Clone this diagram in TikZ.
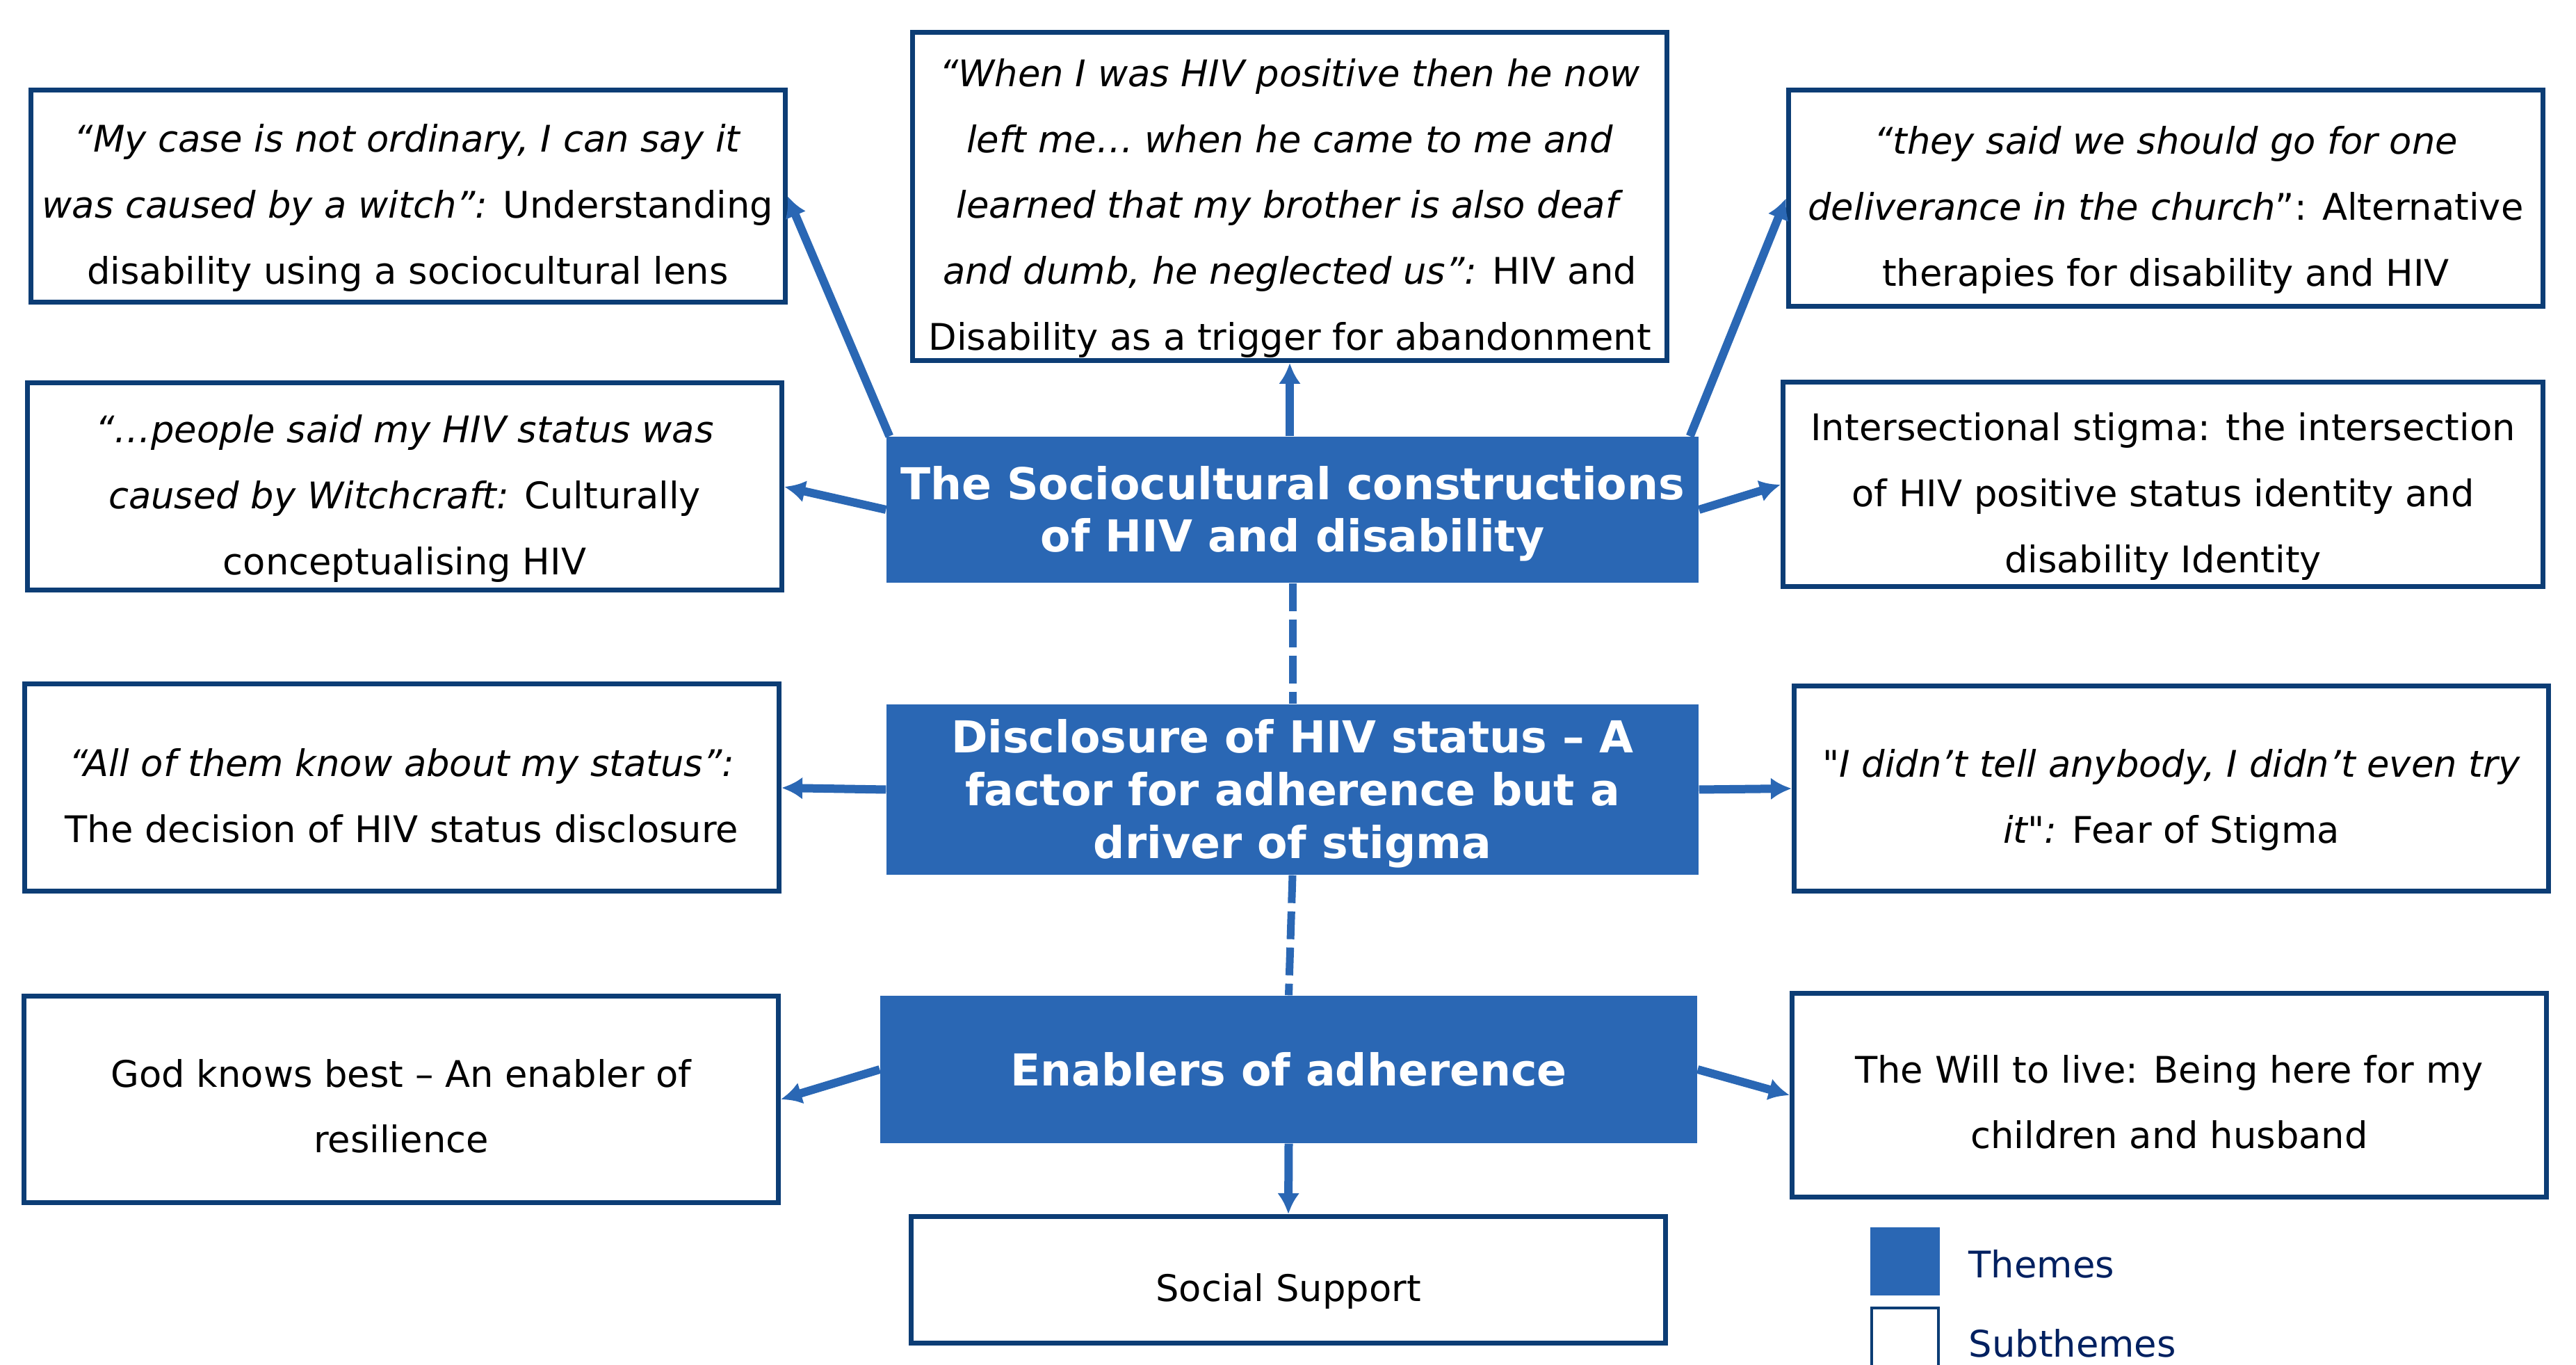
\documentclass[tikz,border=0pt]{standalone}
\usepackage{fontspec}
\setmainfont{DejaVu Sans}[Ligatures=TeXOff]
\usetikzlibrary{arrows.meta}
\definecolor{themeblue}{RGB}{42,103,180}
\definecolor{boxnavy}{RGB}{12,61,117}
\definecolor{keynavy}{RGB}{0,32,96}
% extra room above the first line, so the lines sit a little lower in the box
\newcommand{\topgap}[1]{\rule{0pt}{#1}}

\begin{document}
\begin{tikzpicture}[line join=miter,>={Latex[length=0.3cm,width=0.32cm]},x=1.0cm,y=1.0cm,
theme/.style={fill=themeblue,text=white,align=center,inner sep=0pt,font=\fontsize{18}{21.5}\selectfont\bfseries},
subtheme/.style={draw=boxnavy,line width=0.07cm,fill=white,align=center,inner sep=0pt,minimum width=10.85cm,font=\fontsize{15}{27}\selectfont},
link/.style={->,line width=0.12cm,color=themeblue},
dashlink/.style={line width=0.11cm,color=themeblue,dash pattern=on 0.4cm off 0.12cm}]
\useasboundingbox (0,0) rectangle (37.05,19.62);
\clip (0,0) rectangle (37.05,19.62);
% themes
\node[theme,minimum width=11.68cm,minimum height=2.10cm] (socio) at (18.59,12.29) {\topgap{17pt}The Sociocultural constructions\\of HIV and disability};
\node[theme,minimum width=11.68cm,minimum height=2.45cm] (disclosure) at (18.59,8.265) {\topgap{17pt}Disclosure of HIV status – A\\factor for adherence but a\\driver of stigma};
\node[theme,minimum width=11.75cm,minimum height=2.12cm] (enablers) at (18.535,4.24) {Enablers of adherence};
% subthemes
\node[subtheme,minimum height=3.05cm] (witch) at (5.865,16.80) {\topgap{21pt}\textit{“My case is not ordinary, I can say it}\\\textit{was caused by a witch”:} Understanding\\disability using a sociocultural lens};
\node[subtheme,minimum height=4.72cm] (abandon) at (18.55,16.795) {\topgap{21pt}\textit{“When I was HIV positive then he now}\\\textit{left me… when he came to me and}\\\textit{learned that my brother is also deaf}\\\textit{and dumb, he neglected us”:} HIV and\\Disability as a trigger for abandonment};
\node[subtheme,minimum height=3.11cm] (church) at (31.15,16.77) {\topgap{21pt}\textit{“they said we should go for one}\\\textit{deliverance in the church}”: Alternative\\therapies for disability and HIV};
\node[subtheme,minimum height=2.98cm] (witchcraft) at (5.82,12.62) {\topgap{21pt}\textit{“…people said my HIV status was}\\\textit{caused by Witchcraft:} Culturally\\conceptualising HIV};
\node[subtheme,minimum width=10.93cm,minimum height=2.94cm] (intersect) at (31.11,12.65) {\topgap{21pt}Intersectional stigma: the intersection\\of HIV positive status identity and\\disability Identity};
\node[subtheme,minimum height=2.98cm] (disclose) at (5.78,8.29) {\topgap{18pt}\textit{“All of them know about my status”:}\\The decision of HIV status disclosure};
\node[subtheme,minimum height=2.95cm] (fear) at (31.23,8.28) {\topgap{21pt}\textit{"I didn’t tell anybody, I didn’t even try}\\\textit{it":} Fear of Stigma};
\node[subtheme,minimum height=2.96cm] (god) at (5.77,3.81) {\topgap{17pt}God knows best – An enabler of\\resilience};
\node[subtheme,minimum height=2.93cm] (will) at (31.20,3.87) {\topgap{17pt}The Will to live: Being here for my\\children and husband};
\node[subtheme,minimum height=1.82cm] (support) at (18.53,1.215) {\topgap{21pt}Social Support};
% key
\node[fill=themeblue,minimum width=1.0cm,minimum height=0.98cm,inner sep=0pt] (keytheme) at (27.40,1.48) {};
\node[draw=boxnavy,line width=0.04cm,minimum width=0.96cm,minimum height=0.98cm,inner sep=0pt] (keysub) at (27.40,0.32) {};
\node[anchor=west,inner sep=0pt,text=keynavy,font=\fontsize{15}{18}\selectfont] (keythemetext) at (28.31,1.44) {Themes};
\node[anchor=west,inner sep=0pt,text=keynavy,font=\fontsize{15}{18}\selectfont] (keysubtext) at (28.31,0.30) {Subthemes};
% connectors
\draw[link] ([xshift=0.05cm]socio.north west) -- (witch.east);
\draw[link] (abandon.south |- socio.north) -- (abandon.south);
\draw[link] ([xshift=-0.13cm]socio.north east) -- (church.west);
\draw[link] (socio.west) -- (witchcraft.east);
\draw[link] (socio.east) -- (intersect.west);
\draw[dashlink] (socio.south) -- (disclosure.north);
\draw[link] (disclosure.west) -- (disclose.east);
\draw[link] (disclosure.east) -- (fear.west);
\draw[dashlink] (disclosure.south) -- (enablers.north);
\draw[link] (enablers.west) -- (god.east);
\draw[link] (enablers.east) -- (will.west);
\draw[link] (enablers.south) -- (support.north);
\end{tikzpicture}
\end{document}
